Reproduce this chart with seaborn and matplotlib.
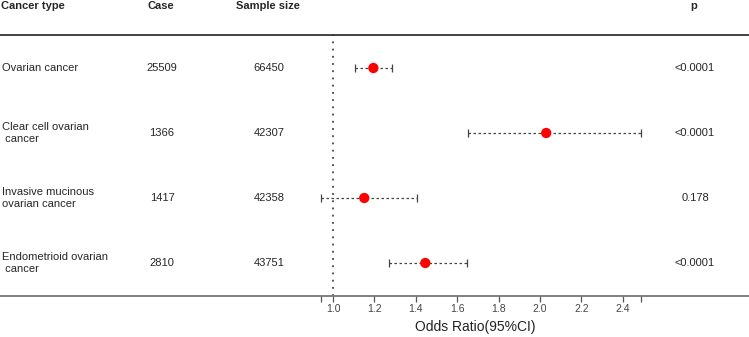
import numpy as np
import pandas as pd
import seaborn as sns
import matplotlib.pyplot as plt
import matplotlib.transforms as mtransforms

# data
cancer_types = ["Ovarian cancer", "Clear cell ovarian\n cancer",
                "Invasive mucinous\novarian cancer", "Endometrioid ovarian\n cancer"]
cases = ["25509", "1366", "1417", "2810"]
sample_sizes = ["66450", "42307", "42358", "43751"]
odds_ratio = [1.195, 2.03, 1.151, 1.446]
ci_low = [1.106, 1.654, 0.942, 1.270]
ci_high = [1.287, 2.490, 1.404, 1.646]
p_values = ["<0.0001", "<0.0001", "0.178", "<0.0001"]

df = pd.DataFrame({"type": cancer_types, "or": odds_ratio,
                   "lo": ci_low, "hi": ci_high, "row": np.arange(len(cancer_types))})

sns.set_style("white")
plt.rcParams['font.family'] = ['Liberation Sans', 'DejaVu Sans']

fig = plt.figure(figsize=(7.49, 3.37), dpi=100)
ax = fig.add_axes([0, 41 / 337, 1, 296 / 337])

# x: 207 px per unit, 1.0 sits at pixel 333
ax.set_xlim(1 - 333 / 207, 1 + 416 / 207)
ax.set_ylim((296 - 68) / 65, -68 / 65)

# reference line
ax.axvline(1.0, ymin=0, ymax=(296 - 35) / 296, color="#444444", ls=(0, (1, 3)), lw=1.3, zorder=1)

# CI bars
eb = ax.errorbar(df["or"], df["row"], xerr=[df["or"] - df["lo"], df["hi"] - df["or"]],
                 fmt="none", ecolor="#444444", elinewidth=0.9, capsize=3, capthick=0.9, zorder=2)
for lc in eb[2]:
    lc.set_linestyle((0, (2, 2)))

sns.scatterplot(data=df, x="or", y="row", color="red", s=55, edgecolor="none", ax=ax, zorder=3)

# table columns (x in axes fraction, y in data)
trans = mtransforms.blended_transform_factory(ax.transAxes, ax.transData)
W = 749
hdr_y = (6 - 68) / 65
ax.text(1 / W, hdr_y, "Cancer type", transform=trans, ha="left", va="center", fontsize=8, fontweight="bold")
ax.text(161 / W, hdr_y, "Case", transform=trans, ha="center", va="center", fontsize=8, fontweight="bold")
ax.text(268 / W, hdr_y, "Sample size", transform=trans, ha="center", va="center", fontsize=8, fontweight="bold")
ax.text(694 / W, hdr_y, "p", transform=trans, ha="center", va="center", fontsize=8, fontweight="bold")
ax.axhline((35 - 68) / 65, color="#222222", lw=1.2)

for i in range(len(cancer_types)):
    ax.text(2 / W, i, cancer_types[i], transform=trans, ha="left", va="center", fontsize=8, linespacing=1.15)
    ax.text(162 / W, i, cases[i], transform=trans, ha="center", va="center", fontsize=8)
    ax.text(269 / W, i, sample_sizes[i], transform=trans, ha="center", va="center", fontsize=8)
    ax.text(695 / W, i, p_values[i], transform=trans, ha="center", va="center", fontsize=8)

# x axis
ticks = [min(ci_low), 1.0, 1.2, 1.4, 1.6, 1.8, 2.0, 2.2, 2.4, max(ci_high)]
labels = [""] + ["%.1f" % t for t in ticks[1:-1]] + [""]
ax.set_xticks(ticks)
ax.set_xticklabels(labels)
ax.set_yticks([])
ax.tick_params(axis="x", direction="out", length=4, width=0.9, color="#555555",
               labelsize=7.5, labelcolor="#444444", pad=2, bottom=True)
for s in ["top", "left", "right"]:
    ax.spines[s].set_visible(False)
ax.spines["bottom"].set_color("#777777")
ax.spines["bottom"].set_linewidth(1.3)
ax.set_xlabel("")
ax.set_ylabel("")
ax.text((min(ci_low) + max(ci_high)) / 2 - 0.03, 327, "Odds Ratio(95%CI)", ha="center", va="center",
        fontsize=10, color="#222222",
        transform=mtransforms.blended_transform_factory(ax.transData, mtransforms.IdentityTransform()) + mtransforms.Affine2D().scale(1, -1).translate(0, 337))

fig.savefig("out.png", dpi=100)
